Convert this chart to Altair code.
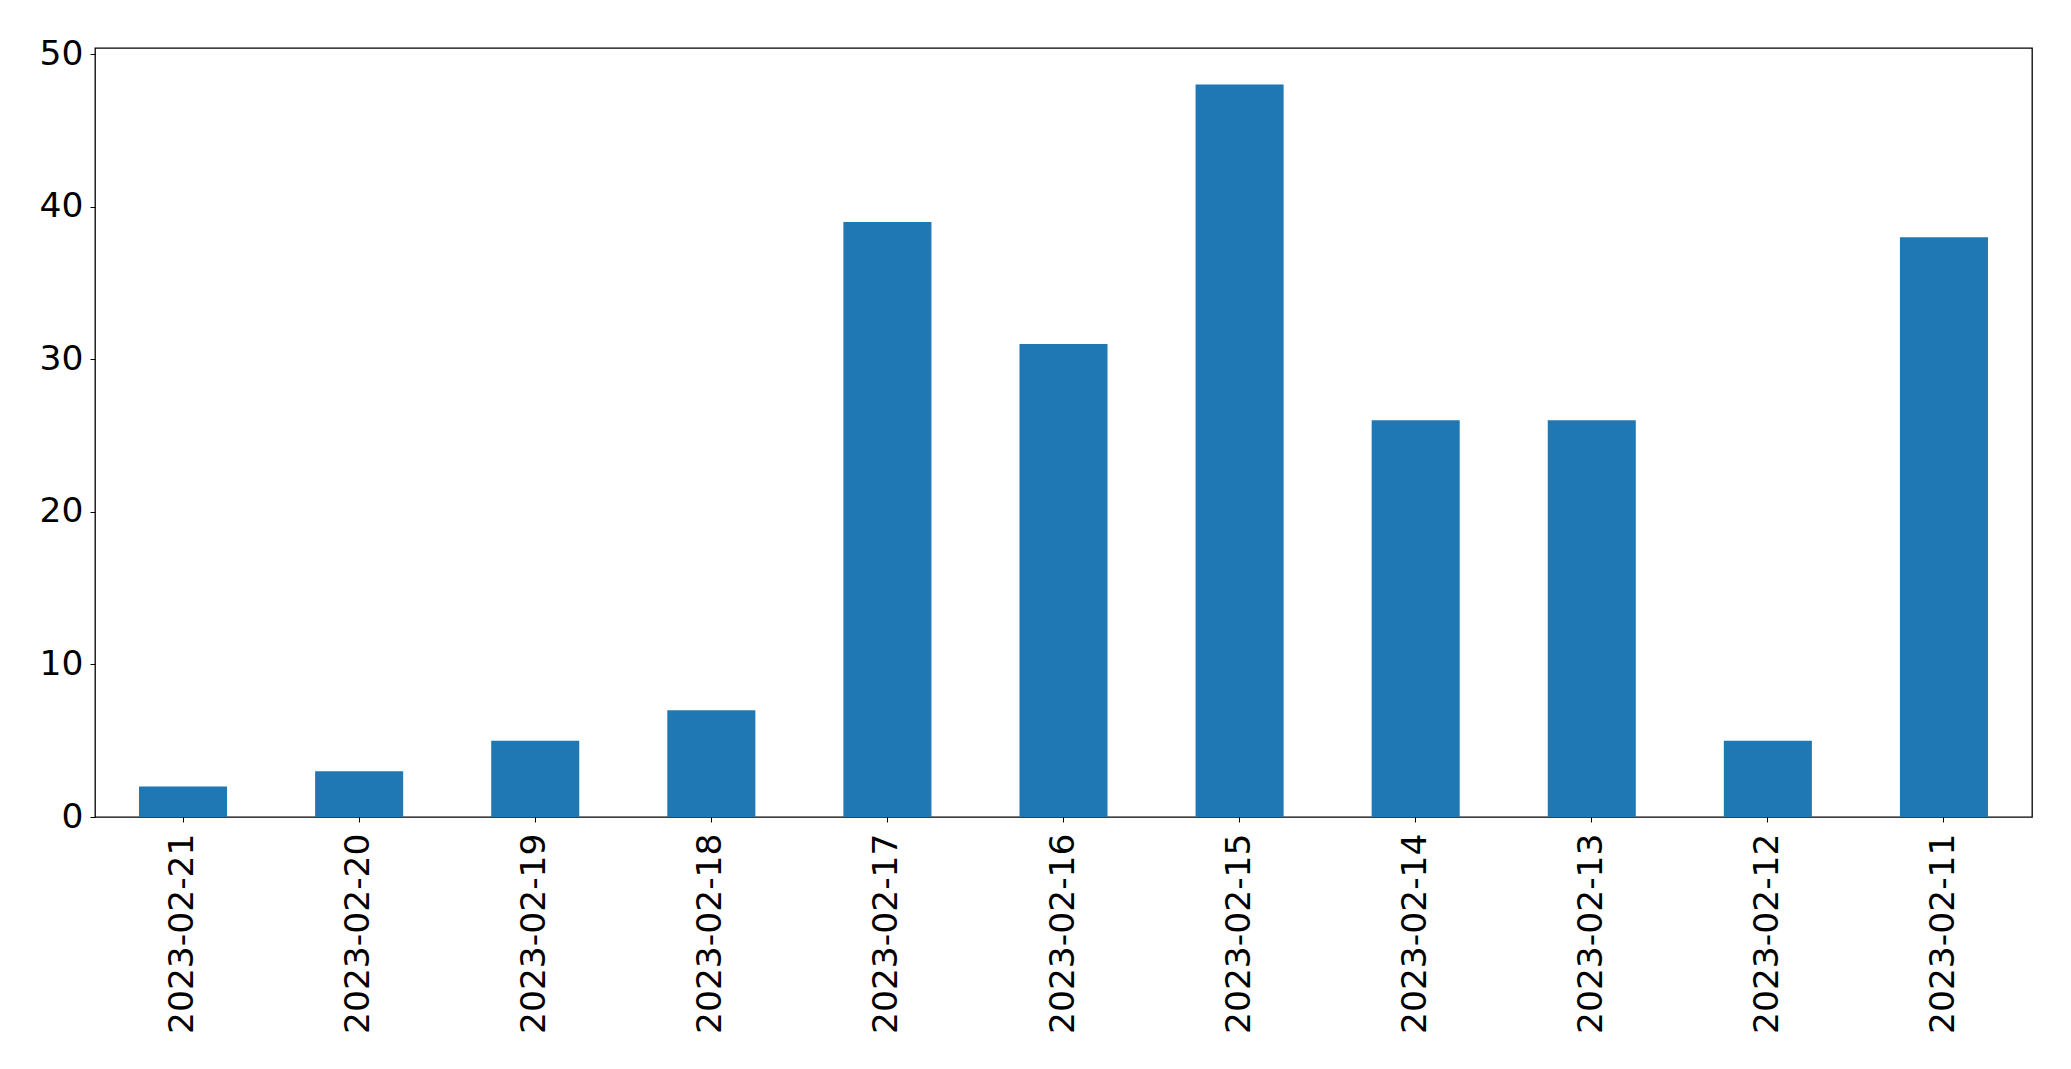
import altair as alt
import pandas as pd

dates = ["2023-02-21", "2023-02-20", "2023-02-19", "2023-02-18", "2023-02-17",
         "2023-02-16", "2023-02-15", "2023-02-14", "2023-02-13", "2023-02-12", "2023-02-11"]
counts = [2, 3, 5, 7, 39, 31, 48, 26, 26, 5, 38]

df = pd.DataFrame({"date": dates, "count": counts})

chart = alt.Chart(df).mark_bar(color="#1f77b4").encode(
    x=alt.X("date:N", sort=dates, title=None,
            scale=alt.Scale(paddingInner=0.5, paddingOuter=0.25),
            axis=alt.Axis(labelAngle=-90, labelAlign="right", labelBaseline="middle",
                          labelFontSize=34.5, labelFont="DejaVu Sans", labelColor="black",
                          labelLimit=0, labelOverlap=False,
                          tickColor="black", tickSize=5, tickWidth=1, labelPadding=11,
                          domain=False)),
    y=alt.Y("count:Q", title=None,
            scale=alt.Scale(domain=[0, 50.4], nice=False),
            axis=alt.Axis(values=[0, 10, 20, 30, 40, 50], grid=False,
                          labelFontSize=34.5, labelFont="DejaVu Sans", labelColor="black",
                          tickColor="black", tickSize=5, tickWidth=1, labelPadding=7,
                          domain=False)),
).properties(
    width=1937, height=769,
    autosize=alt.AutoSizeParams(type="none"),
    padding={"left": 87, "top": 40, "right": 30, "bottom": 240},
).configure_view(stroke="black", strokeWidth=1.3)

chart.save("out.html", embed_options={"renderer": "svg", "actions": False})
